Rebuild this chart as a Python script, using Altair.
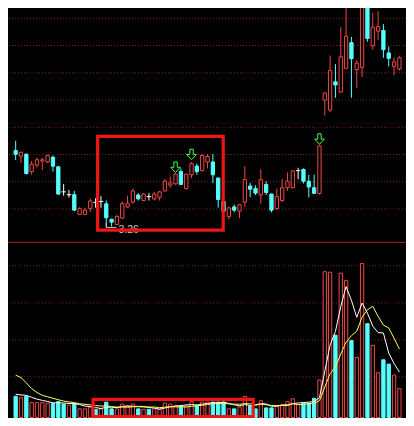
import altair as alt
import pandas as pd

# ---------------- data ----------------
opens = [4.06, 4.00, 4.02, 3.84, 3.907, 3.95, 3.94, 3.99, 3.89, 3.63,
         3.60, 3.60, 3.395, 3.395, 3.455, 3.52, 3.53, 3.505, 3.345, 3.29,
         3.357, 3.473, 3.523, 3.597, 3.54, 3.58, 3.557, 3.573, 3.64, 3.70,
         3.713, 3.84, 3.663, 3.807, 3.897, 3.85, 3.94, 3.94, 3.773, 3.53,
         3.373, 3.473, 3.43, 3.523, 3.69, 3.663, 3.597, 3.707, 3.607, 3.457,
         3.54, 3.673, 3.673, 3.85, 3.863, 3.74, 3.673, 3.613, 4.583, 4.48,
         4.773, 4.667, 4.913, 5.18, 4.90, 4.923, 5.57, 5.147, 5.30, 5.307,
         5.073, 4.933, 4.907]
closes = [4.02, 4.04, 3.82, 3.917, 3.963, 3.963, 4.007, 3.897, 3.607, 3.63,
          3.60, 3.44, 3.455, 3.44, 3.535, 3.52, 3.53, 3.36, 3.315, 3.373,
          3.507, 3.507, 3.64, 3.557, 3.607, 3.58, 3.607, 3.63, 3.74, 3.723,
          3.813, 3.707, 3.813, 3.923, 3.84, 4.007, 3.997, 3.807, 3.55, 3.43,
          3.463, 3.44, 3.497, 3.757, 3.657, 3.617, 3.757, 3.623, 3.44, 3.58,
          3.673, 3.74, 3.847, 3.85, 3.74, 3.68, 3.615, 4.107, 4.657, 4.89,
          4.74, 5.033, 5.247, 5.013, 4.967, 5.57, 5.223, 5.34, 5.347, 5.107,
          5.017, 4.98, 5.023]
highs = [4.16, 4.05, 4.03, 3.95, 3.983, 3.983, 4.017, 4.007, 3.90, 3.71,
         3.65, 3.64, 3.47, 3.465, 3.56, 3.565, 3.585, 3.54, 3.35, 3.39,
         3.53, 3.59, 3.663, 3.617, 3.615, 3.617, 3.63, 3.64, 3.763, 3.79,
         3.82, 3.873, 3.82, 3.94, 3.923, 4.023, 4.023, 4.023, 3.78, 3.55,
         3.473, 3.497, 3.50, 3.897, 3.723, 3.697, 3.863, 3.74, 3.61, 3.663,
         3.763, 3.83, 3.855, 3.88, 3.873, 3.807, 3.807, 4.11, 4.66, 5.047,
         4.957, 5.34, 5.59, 5.24, 5.00, 5.59, 5.59, 5.49, 5.507, 5.373,
         5.14, 5.023, 5.04]
lows = [3.96, 3.93, 3.81, 3.807, 3.883, 3.857, 3.93, 3.84, 3.597, 3.59,
        3.57, 3.43, 3.39, 3.39, 3.42, 3.465, 3.465, 3.26, 3.27, 3.285,
        3.35, 3.463, 3.507, 3.54, 3.535, 3.54, 3.54, 3.54, 3.63, 3.673,
        3.705, 3.70, 3.655, 3.773, 3.807, 3.84, 3.873, 3.723, 3.465, 3.41,
        3.34, 3.417, 3.357, 3.473, 3.573, 3.597, 3.507, 3.597, 3.417, 3.44,
        3.523, 3.64, 3.665, 3.76, 3.717, 3.573, 3.607, 3.60, 4.423, 4.457,
        4.607, 4.657, 4.907, 4.607, 4.707, 4.823, 5.19, 5.107, 5.207, 5.023,
        4.933, 4.84, 4.89]
volumes = [22, 20.5, 22, 15.5, 15.5, 15.5, 15, 14.5, 16.5, 14,
           13, 14.5, 9, 9, 11, 8.5, 9, 16, 9, 9,
           14, 12, 14, 9, 8.5, 8.5, 9, 8.5, 15, 14,
           12.5, 12, 12, 16.5, 12.5, 16, 16, 16, 16, 16,
           9, 9, 11, 22, 12, 9, 17.5, 10, 10, 12.5,
           13.5, 16.5, 19.5, 13.5, 15, 15, 20, 39, 151.5, 151,
           85.5, 150, 142.5, 80, 62.5, 160, 97.5, 75, 46.5, 60,
           55.5, 44, 30]
ma5 = [24, 23.5, 23, 21, 19.1, 17.8, 16.7, 15.2, 15.4, 15.1,
       14.6, 14.5, 13.4, 11.9, 11.3, 10.4, 9.3, 10.7, 10.7, 10.3,
       11.4, 12, 11.6, 11.6, 11.5, 10.4, 9.8, 8.7, 9.9, 11,
       11.8, 12.4, 13.1, 13.4, 13.1, 13.8, 14.6, 15.4, 15.3, 16,
       14.6, 13.2, 12.2, 13.4, 12.6, 12.6, 14.3, 14.1, 11.7, 11.8,
       12.7, 12.5, 14.4, 15.1, 15.6, 15.9, 16.6, 20.5, 48.1, 75.3,
       89.4, 115.4, 136.1, 121.8, 104.1, 119, 108.5, 95, 88.3, 87.8,
       66.9, 56.2, 47.2]
ma10 = [44, 41.5, 36, 30, 26, 23, 21.5, 20, 18.5, 17.1,
        16.2, 15.6, 14.3, 13.7, 13.2, 12.5, 11.9, 12.1, 11.3, 10.8,
        10.9, 10.7, 11.2, 11.2, 10.9, 10.9, 10.9, 10.2, 10.8, 11.3,
        11.1, 11.1, 10.9, 11.7, 12.1, 12.8, 13.5, 14.3, 14.4, 14.6,
        14.2, 13.9, 13.8, 14.4, 14.3, 13.6, 13.8, 13.2, 12.6, 12.2,
        12.7, 13.4, 14.3, 13.4, 13.7, 14.3, 14.6, 17.5, 31.6, 45.5,
        52.7, 66, 78.3, 85, 89.7, 104.2, 112, 115.6, 105.1, 96,
        93, 82.4, 71.1]
# volume colour of the doji days (close == open)
doji_vol_side = {9: "down", 10: "up", 15: "down", 16: "up", 25: "down", 53: "up"}

price_grid = [5.433, 5.15, 4.867, 4.584, 4.301, 4.018, 3.735, 3.452]
vol_grid = [157.7, 119, 80.7, 42.3]
separator_price = [3.105]

arrow_idx = [30, 33, 57]
arrow_price = [3.885, 4.018, 4.178]

low_idx = 17
low_label = "3.26"

box_price = {"x0": 15.38, "x1": 38.94, "y0": 3.233, "y1": 4.207}
box_vol = {"x0": 14.53, "x1": 44.57, "y0": 1.0, "y1": 18.8}

# ---------------- styling ----------------
RED = "#f04646"
CYAN = "#54ffff"
WHITE = "#ffffff"
BLACK = "#000000"
BOXRED = "#f01414"
GRID = "#7a1e1e"
SEP = "#b41e1e"
YELLOW = "#ffff55"
GREEN = "#4cff4c"
LABEL = "#c8c8c8"

W, H = 398, 410

N = len(opens)
df = pd.DataFrame({
    "i": list(range(N)), "open": opens, "close": closes, "high": highs,
    "low": lows, "vol": volumes, "ma5": ma5, "ma10": ma10,
})
df["dir"] = ["up" if c > o else ("down" if c < o else "flat") for o, c in zip(opens, closes)]
df["vside"] = [doji_vol_side.get(i, d) for i, d in zip(df["i"], df["dir"])]

XS = alt.Scale(domain=[-0.5, 72.3], nice=False, zero=False)
YP = alt.Scale(domain=[1.28, 5.54], nice=False, zero=False)
YV = alt.Scale(domain=[-0.5, 425.5], nice=False, zero=False)

x = alt.X("i:Q", scale=XS, axis=None)
dirs = ["up", "down", "flat"]
stroke_c = alt.Stroke("dir:N", scale=alt.Scale(domain=dirs, range=[RED, CYAN, WHITE]), legend=None)
fill_c = alt.Fill("dir:N", scale=alt.Scale(domain=dirs, range=[BLACK, CYAN, WHITE]), legend=None)

base = alt.Chart(df)

grid_p = alt.Chart(pd.DataFrame({"p": price_grid})).mark_rule(
    color=GRID, strokeDash=[1, 2], strokeWidth=1
).encode(y=alt.Y("p:Q", scale=YP, axis=None))

grid_v = alt.Chart(pd.DataFrame({"v": vol_grid})).mark_rule(
    color=GRID, strokeDash=[1, 2], strokeWidth=1
).encode(y=alt.Y("v:Q", scale=YV, axis=None))

sep = alt.Chart(pd.DataFrame({"p": separator_price})).mark_rule(
    color=SEP, strokeWidth=1
).encode(y=alt.Y("p:Q", scale=YP, axis=None))

wicks = base.mark_rule(strokeWidth=1, clip=True).encode(
    x=x, y=alt.Y("low:Q", scale=YP, axis=None), y2="high:Q",
    color=alt.Color("dir:N", scale=alt.Scale(domain=dirs, range=[RED, CYAN, WHITE]), legend=None),
)
bodies = base.transform_filter("datum.dir != 'flat'").mark_bar(size=3.3, strokeWidth=1, clip=True).encode(
    x=x, y=alt.Y("open:Q", scale=YP, axis=None), y2="close:Q", fill=fill_c, stroke=stroke_c,
)
doji = base.transform_filter("datum.dir == 'flat'").mark_tick(
    orient="horizontal", size=4.5, thickness=1, color=WHITE, opacity=1
).encode(x=x, y=alt.Y("open:Q", scale=YP, axis=None))

vside = ["up", "down"]
vol = base.mark_bar(size=3.3, strokeWidth=1).encode(
    x=x, y=alt.Y("vol:Q", scale=YV, axis=None), y2=alt.datum(0),
    fill=alt.Fill("vside:N", scale=alt.Scale(domain=vside, range=[BLACK, CYAN]), legend=None),
    stroke=alt.Stroke("vside:N", scale=alt.Scale(domain=vside, range=[RED, CYAN]), legend=None),
)
line5 = base.mark_line(color=WHITE, strokeWidth=1).encode(x=x, y=alt.Y("ma5:Q", scale=YV, axis=None))
line10 = base.mark_line(color=YELLOW, strokeWidth=1).encode(x=x, y=alt.Y("ma10:Q", scale=YV, axis=None))

ARROW = "M -0.35 -1.1 L 0.35 -1.1 L 0.35 0 L 1 0 L 0 1.1 L -1 0 L -0.35 0 Z"
arrows = alt.Chart(pd.DataFrame({"i": arrow_idx, "p": arrow_price})).mark_point(
    shape=ARROW, size=92, filled=False, stroke=GREEN, strokeWidth=1, opacity=1
).encode(x=x, y=alt.Y("p:Q", scale=YP, axis=None))

low_df = pd.DataFrame({"i": [low_idx], "p": [lows[low_idx]], "t": [low_label]})
low_df["i_end"] = low_df["i"] + 1.9
low_df["i_txt"] = low_df["i"] + 2.28
low_df["p_txt"] = low_df["p"] - 0.055
low_df["p_top"] = low_df["p"] + 0.05
low_h = alt.Chart(low_df).mark_rule(color=LABEL, strokeWidth=1).encode(
    x=alt.X("i:Q", scale=XS, axis=None), x2="i_end:Q", y=alt.Y("p:Q", scale=YP, axis=None))
low_v = alt.Chart(low_df).mark_rule(color=LABEL, strokeWidth=1).encode(
    x=alt.X("i:Q", scale=XS, axis=None), y=alt.Y("p:Q", scale=YP, axis=None), y2="p_top:Q")
low_t = alt.Chart(low_df).mark_text(
    align="left", baseline="alphabetic", fontSize=10.5, font="Liberation Sans", color=LABEL
).encode(x=alt.X("i_txt:Q", scale=XS, axis=None), y=alt.Y("p_txt:Q", scale=YP, axis=None), text="t:N")

box1 = alt.Chart(pd.DataFrame([box_price])).mark_rect(
    fillOpacity=0, stroke=BOXRED, strokeWidth=3.2
).encode(x=alt.X("x0:Q", scale=XS, axis=None), x2="x1:Q",
         y=alt.Y("y0:Q", scale=YP, axis=None), y2="y1:Q")
box2 = alt.Chart(pd.DataFrame([box_vol])).mark_rect(
    fillOpacity=0, stroke=BOXRED, strokeWidth=3.2
).encode(x=alt.X("x0:Q", scale=XS, axis=None), x2="x1:Q",
         y=alt.Y("y0:Q", scale=YV, axis=None), y2="y1:Q")

chart = alt.layer(
    grid_p, grid_v, sep, wicks, bodies, doji, vol, line5, line10,
    arrows, low_h, low_v, low_t, box1, box2
).resolve_scale(
    y="independent", color="independent", fill="independent", stroke="independent"
).properties(
    width=W, height=H, padding=0, background=BLACK,
    autosize=alt.AutoSizeParams(type="none"),
).configure_view(strokeWidth=0)

chart.save("out.html", embed_options={"renderer": "svg", "actions": False})
